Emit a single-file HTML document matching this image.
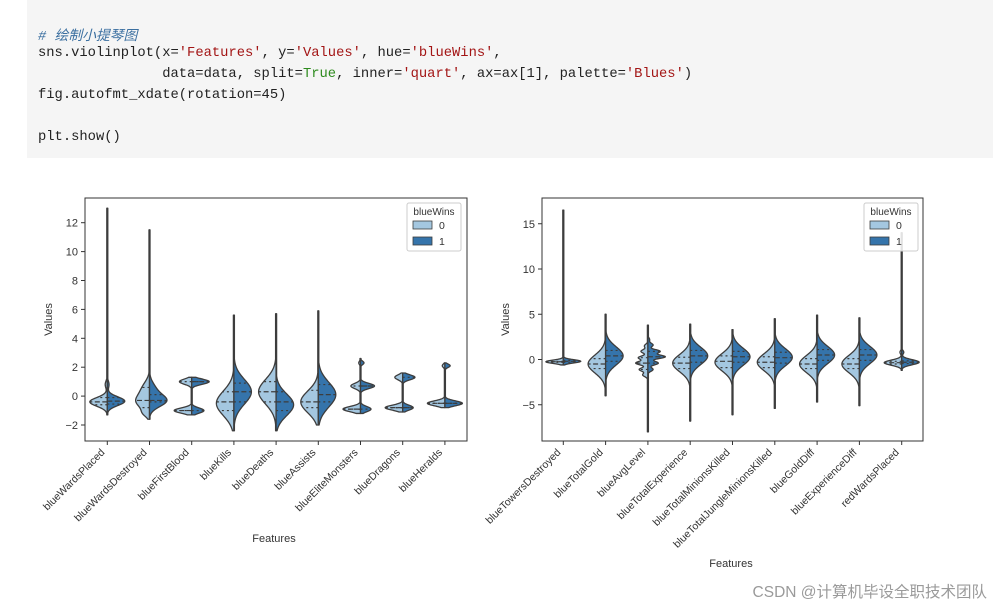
<!DOCTYPE html>
<html><head><meta charset="utf-8">
<style>
body{margin:0;width:993px;height:608px;background:#fff;overflow:hidden;position:relative;font-family:"Liberation Sans","Noto Sans CJK SC",sans-serif}
#code{position:absolute;left:27px;top:0;width:966px;height:158px;background:#f5f5f5}
.ln{position:absolute;left:38px;font-family:"Liberation Mono","Noto Sans CJK SC",monospace;font-size:13.8px;color:#222;white-space:pre}
.s{color:#a31515}.k{color:#2e8b1e}.c{color:#3b6fa0;font-style:italic}
#wm{position:absolute;right:6px;top:580px;font-size:15.5px;color:#9a9a9a}
</style></head><body>
<div id="code"></div>
<div class="ln" style="top:24px"><span class="c"># 绘制小提琴图</span></div>
<div class="ln" style="top:46px">sns.violinplot(x=<span class="s">'Features'</span>, y=<span class="s">'Values'</span>, hue=<span class="s">'blueWins'</span>,</div>
<div class="ln" style="top:67px">               data=data, split=<span class="k">True</span>, inner=<span class="s">'quart'</span>, ax=ax[1], palette=<span class="s">'Blues'</span>)</div>
<div class="ln" style="top:88px">fig.autofmt_xdate(rotation=45)</div>
<div class="ln" style="top:130px">plt.show()</div>
<svg id="svg" width="993" height="608" style="position:absolute;left:0;top:0"></svg>
<div id="wm">CSDN @计算机毕设全职技术团队</div>
<script>
// ---- left chart data ----
const catsL = ['blueWardsPlaced','blueWardsDestroyed','blueFirstBlood','blueKills','blueDeaths','blueAssists','blueEliteMonsters','blueDragons','blueHeralds'];
const extL = [[-1.3,13],[-1.6,11.5],[-1.3,1.3],[-2.4,5.6],[-2.4,5.7],[-2.0,5.9],[-1.2,2.6],[-1.1,1.6],[-0.8,2.3]];
const modesL0 = [[[-0.4,0.3,1],[0.8,0.25,0.12]],[[-0.4,0.45,0.8],[0.5,0.5,0.45],[-1.2,0.25,0.3]],[[-1,0.18,1],[1,0.18,0.7]],[[-0.5,0.85,1]],[[0.3,0.85,1]],[[-0.4,0.75,1]],[[-0.9,0.18,1],[0.7,0.18,0.55],[2.3,0.12,0.1]],[[-0.8,0.17,1],[1.3,0.17,0.45]],[[-0.5,0.17,1],[2.1,0.12,0.15]]];
const modesL1 = [[[-0.35,0.3,1],[0.8,0.25,0.1]],[[-0.35,0.4,1],[0.4,0.5,0.4]],[[-1,0.18,0.7],[1,0.18,1]],[[0.3,0.85,1]],[[-0.6,0.75,1]],[[0.1,0.85,1]],[[-0.9,0.18,0.6],[0.7,0.18,0.8],[2.3,0.12,0.2]],[[-0.8,0.17,0.6],[1.3,0.17,0.7]],[[-0.5,0.17,1],[2.1,0.12,0.3]]];
const quartL0 = [[-0.6,-0.4,-0.1],[-0.8,-0.3,0.6],[-1,-1,1],[-1,-0.4,0.3],[-0.4,0.3,1.0],[-0.8,-0.4,0.4],[-0.9,-0.9,0.7],[-0.8,-0.8,-0.8],[-0.5,-0.5,-0.5]];
const quartL1 = [[-0.55,-0.35,-0.1],[-0.4,-0.3,0.1],[-1,1,1],[-0.4,0.3,0.9],[-1.0,-0.4,0.3],[-0.4,0.1,0.8],[-0.9,0.7,0.7],[-0.8,-0.8,1.3],[-0.5,-0.5,-0.5]];
const ticksL = [-2,0,2,4,6,8,10,12];
// ---- right chart data ----
const catsR = ['blueTowersDestroyed','blueTotalGold','blueAvgLevel','blueTotalExperience','blueTotalMinionsKilled','blueTotalJungleMinionsKilled','blueGoldDiff','blueExperienceDiff','redWardsPlaced'];
const extR = [[-0.6,16.5],[-4,5],[-8,3.8],[-6.8,3.9],[-6.1,3.3],[-5.4,4.5],[-4.7,4.9],[-5.1,4.6],[-1.2,14]];
const modesR0 = [[[-0.25,0.18,1]],[[-0.5,1.0,1]],[[-1.7,0.2,0.3],[-1.1,0.2,0.5],[-0.4,0.2,0.7],[0.2,0.2,0.55],[0.9,0.2,0.4],[1.5,0.2,0.2]],[[-0.4,0.95,1]],[[-0.3,0.95,1]],[[-0.3,0.95,1]],[[-0.5,0.95,1]],[[-0.5,0.95,1]],[[-0.35,0.28,1],[0.8,0.2,0.1]]];
const modesR1 = [[[-0.2,0.18,1]],[[0.4,1.0,1]],[[-1.1,0.2,0.3],[-0.4,0.2,0.6],[0.3,0.2,1],[0.9,0.2,0.7],[1.6,0.2,0.3],[2.2,0.2,0.1]],[[0.4,0.95,1]],[[0.3,0.95,1]],[[0.25,0.95,1]],[[0.5,0.95,1]],[[0.5,0.95,1]],[[-0.3,0.28,1],[0.8,0.2,0.12]]];
const quartR0 = [[-0.3,-0.25,-0.2],[-1.0,-0.5,0.1],[-1.1,-0.4,0.2],[-1.0,-0.4,0.25],[-0.9,-0.2,0.4],[-0.9,-0.3,0.3],[-1.0,-0.5,0.1],[-1.0,-0.5,0.1],[-0.5,-0.35,-0.2]];
const quartR1 = [[-0.3,-0.2,-0.1],[-0.2,0.4,1.0],[-0.4,0.3,0.9],[-0.3,0.4,1.0],[-0.3,0.3,0.9],[-0.4,0.2,0.8],[-0.1,0.5,1.1],[-0.1,0.5,1.1],[-0.45,-0.3,-0.15]];
const ticksR = [-5,0,5,10,15];

const NS='http://www.w3.org/2000/svg', svg=document.getElementById('svg');
function el(t,a,p){const e=document.createElementNS(NS,t);for(const k in a)e.setAttribute(k,a[k]);(p||svg).appendChild(e);return e;}
const C0='#a4c7e0',C1='#3574ab',EC='#3d3d3d';

function chart(cfg){
  const g=el('g',{});
  
  
  const yS=v=>cfg.y0-v*cfg.ppu;
  const xS=i=>cfg.x0+i*cfg.dx;
  const fr=el('rect',{x:cfg.L,y:cfg.T,width:cfg.R-cfg.L,height:cfg.B-cfg.T,fill:'none',stroke:'#333','stroke-width':1},g);
  
  
  cfg.ticks.forEach(t=>{
    const y=yS(t);
    el('line',{x1:cfg.L-4,x2:cfg.L,y1:y,y2:y,stroke:'#333'},g);
    const tx=el('text',{x:cfg.L-7,y:y+4,'text-anchor':'end','font-size':11,fill:'#333'},g);
    tx.textContent=(t<0?'\u2212'+(-t):t);
    
    
  });
  cfg.cats.forEach((c,i)=>{
    const x=xS(i);
    el('line',{x1:x,x2:x,y1:cfg.B,y2:cfg.B+4,stroke:'#333'},g);
    const tx=el('text',{x:x-2,y:cfg.B+12,'text-anchor':'end','font-size':10.5,fill:'#333',transform:`rotate(-45 ${x-2} ${cfg.B+12})`},g);
    tx.textContent=c;
    
    
    const [lo,hi]=cfg.ext[i];
    const dens=(m,v)=>m.reduce((s,[mu,sd,a])=>s+a*Math.exp(-0.5*((v-mu)/sd)**2),0);
    const N=300;let mx=0;const vs=[];
    for(let k=0;k<=N;k++){const v=lo+(hi-lo)*k/N;vs.push(v);mx=Math.max(mx,dens(cfg.m0[i],v),dens(cfg.m1[i],v));}
    const W=17.5, hw=(m,v)=>Math.max(0.5,dens(m,v)/mx*W);
    [[cfg.m0[i],-1,C0,cfg.q0[i]],[cfg.m1[i],1,C1,cfg.q1[i]]].forEach(([m,sgn,col,q],h)=>{
      let d=`M${x},${yS(lo)}`;
      vs.forEach(v=>{d+=`L${x+sgn*hw(m,v)},${yS(v)}`;});
      d+=`L${x},${yS(hi)}Z`;
      const p=el('path',{d,fill:col,stroke:EC,'stroke-width':1.3,'stroke-linejoin':'round'},g);
      
      
      q.forEach((qv,j)=>{
        const ln=el('line',{x1:x,x2:x+sgn*hw(m,qv),y1:yS(qv),y2:yS(qv),stroke:EC,'stroke-width':1.2,'stroke-dasharray':j==1?'5,2.5':'2,3'},g);
        
        
      });
    });
  });
  const yl=el('text',{x:cfg.L-33,y:(cfg.T+cfg.B)/2,'text-anchor':'middle','font-size':11,fill:'#333',transform:`rotate(-90 ${cfg.L-33} ${(cfg.T+cfg.B)/2})`},g);
  yl.textContent='Values';
  
  
  const xl=el('text',{x:cfg.fx,y:cfg.fy,'text-anchor':'middle','font-size':11,fill:'#333'},g);
  xl.textContent='Features';
  
  
  const lg=el('g',{},g);
  
  
  const lx=cfg.lx,ly=203;
  el('rect',{x:lx,y:ly,width:54,height:48,fill:'#fff','fill-opacity':0.85,stroke:'#ccc',rx:2},lg);
  const lt=el('text',{x:lx+27,y:ly+12,'text-anchor':'middle','font-size':10,fill:'#333'},lg);lt.textContent='blueWins';
  [[C0,'0'],[C1,'1']].forEach(([col,t],k)=>{
    const e=el('rect',{x:lx+6,y:ly+18+k*16,width:19,height:8,fill:col,stroke:EC,'stroke-width':0.8},lg);
    
    
    const tt=el('text',{x:lx+32,y:ly+26+k*16,'font-size':10.5,fill:'#333'},lg);tt.textContent=t;
  });
}
chart({name:'left-violin-chart',cats:catsL,ext:extL,m0:modesL0,m1:modesL1,q0:quartL0,q1:quartL1,ticks:ticksL,L:85,R:467,T:198,B:441,y0:396.1,ppu:14.45,x0:107.3,dx:42.2,fx:274,fy:542,lx:407});
chart({name:'right-violin-chart',cats:catsR,ext:extR,m0:modesR0,m1:modesR1,q0:quartR0,q1:quartR1,ticks:ticksR,L:542,R:923,T:198,B:441,y0:359.5,ppu:9.05,x0:563.3,dx:42.3,fx:731,fy:567,lx:864});
</script>
</body></html>
